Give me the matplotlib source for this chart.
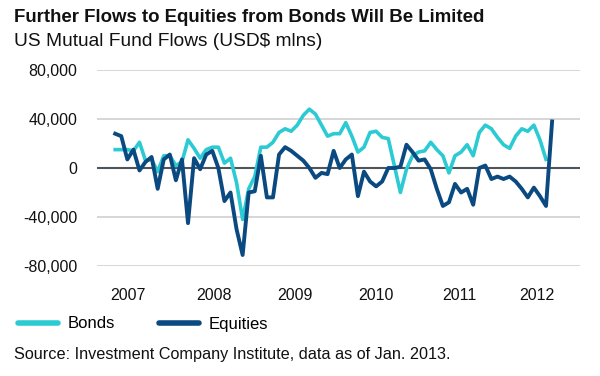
import numpy as np
import matplotlib
matplotlib.use("Agg")
import matplotlib.pyplot as plt
from matplotlib.lines import Line2D
from matplotlib.ticker import FuncFormatter

# monthly flows, USD mlns (thousands), Jan 2007 .. Jan 2013
bonds = [15, 15, 15, 14, 21, 6, 7, -3, 10, 10, 2, 5,
         23, 16, 8, 15, 17, 17, 4, 8, -12, -42, -17, -7,
         17, 17, 21, 29, 32, 30, 35, 43, 48, 44, 35, 26,
         28, 28, 37, 26, 13, 17, 29, 30, 25, 24, 2, -20,
         -1, 10, 13, 14, 21, 15, 10, -4, 10, 13, 19, 10,
         29, 35, 32, 25, 19, 16, 26, 32, 30, 35, 23, 7]
equities = [28, 26, 7, 15, -2, 5, 9, -17, 7, 11, -10, 7,
            -45, 8, -1, 11, 14, 0, -27, -20, -50, -71, -20, -19,
            10, -24, -24, 11, 17, 14, 10, 6, 0, -8, -4, -5,
            14, 0, 7, 11, -23, -3, -11, -15, -11, 0, 0, 1,
            19, 13, 6, 7, -1, -17, -31, -28, -13, -20, -17, -30,
            0, 2, -9, -7, -9, -7, -11, -17, -24, -16, -23, -31, 38]
year_labels = ["2007", "2008", "2009", "2010", "2011", "2012"]
year_pos = [2.1, 16.3, 29.6, 43.0, 56.8, 69.5]
y_ticks = [-80000, -40000, 0, 40000, 80000]

BOND_COLOR = "#2ccbd3"
EQUITY_COLOR = "#0a4a80"
FONT = "Liberation Sans"

plt.rcParams["font.family"] = FONT

fig = plt.figure(figsize=(6.0, 3.76), dpi=100)
ax = fig.add_axes([97 / 600, 1 - 266 / 376, 483 / 600, 196 / 376])

b = np.array(bonds) * 1000
e = np.array(equities) * 1000
ax.plot(np.arange(len(b)), b, color=BOND_COLOR, lw=2.6, solid_joinstyle="round", zorder=3)
ax.plot(np.arange(len(e)), e, color=EQUITY_COLOR, lw=2.8, solid_joinstyle="round", zorder=4)

ax.set_xlim(-3, 76.6)
ax.set_ylim(-80000, 80000)
ax.set_yticks(y_ticks)
ax.yaxis.set_major_formatter(FuncFormatter(lambda v, p: f"{int(v):,}"))
ax.set_xticks(year_pos)
ax.set_xticklabels(year_labels)
ax.tick_params(length=0, labelsize=11.5, colors="#111111")
ax.tick_params(axis="y", pad=14)
ax.tick_params(axis="x", pad=16)
ax.grid(axis="y", color="#d3d3d3", lw=1.3)
ax.axhline(0, color="#50555a", lw=1.5, zorder=2)
for s in ax.spines.values():
    s.set_visible(False)

fig.text(14 / 600, 1 - 17 / 376, "Further Flows to Equities from Bonds Will Be Limited",
         fontsize=13.4, fontweight="bold", va="center", color="#111111")
fig.text(14 / 600, 1 - 42 / 376, "US Mutual Fund Flows (USD$ mlns)",
         fontsize=13.8, va="center", color="#111111")
fig.text(14 / 600, 1 - 355 / 376, "Source: Investment Company Institute, data as of Jan. 2013.",
         fontsize=11.7, va="center", color="#111111")

handles = [Line2D([], [], color=BOND_COLOR, lw=4, solid_capstyle="round"),
           Line2D([], [], color=EQUITY_COLOR, lw=4, solid_capstyle="round")]
fig.legend(handles, ["Bonds", "Equities"], ncol=2, frameon=False,
           loc="center left", bbox_to_anchor=(18 / 600, 1 - 324 / 376),
           borderaxespad=0, borderpad=0,
           fontsize=12, handlelength=2.4, columnspacing=2.6, handletextpad=0.6)

fig.savefig("out.png", dpi=100)
